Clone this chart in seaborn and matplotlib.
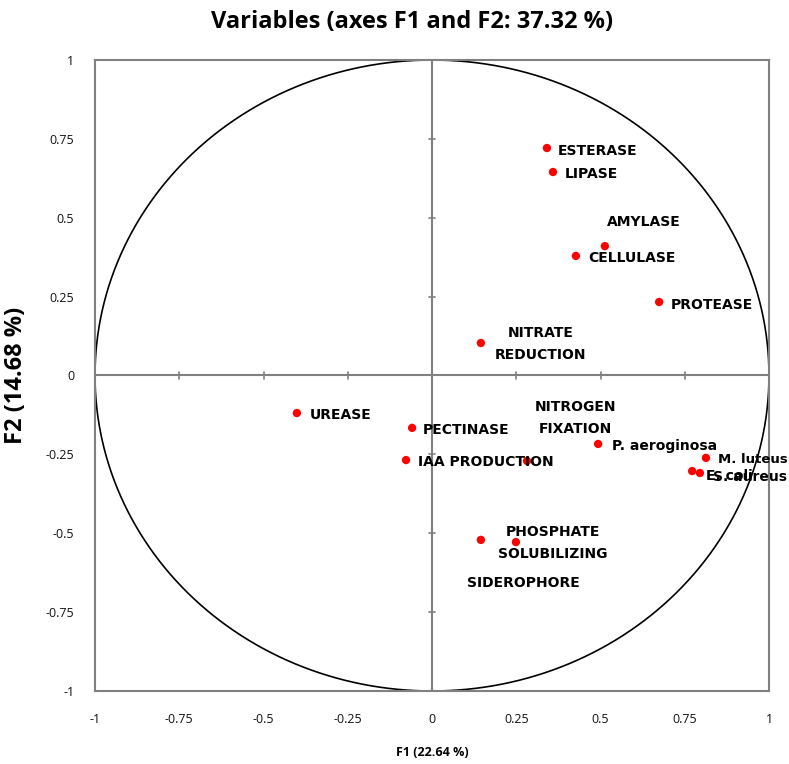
import numpy as np
import pandas as pd
import matplotlib
matplotlib.use("Agg")
import matplotlib.pyplot as plt
import seaborn as sns

# ---- data ----
variables = ["ESTERASE", "LIPASE", "AMYLASE", "CELLULASE", "PROTEASE",
             "NITRATE\nREDUCTION", "UREASE", "PECTINASE", "IAA PRODUCTION",
             "NITROGEN\nFIXATION", "P. aeroginosa", "M. luteus", "E. coli",
             "S. aureus", "PHOSPHATE\nSOLUBILIZING", "SIDEROPHORE"]
f1 = [0.341, 0.359, 0.513, 0.427, 0.674, 0.145, -0.401, -0.059, -0.077,
      0.282, 0.493, 0.813, 0.772, 0.795, 0.249, 0.145]
f2 = [0.721, 0.645, 0.410, 0.379, 0.233, 0.103, -0.119, -0.166, -0.268,
      -0.271, -0.217, -0.261, -0.303, -0.309, -0.528, -0.521]
ticks = [-1, -0.75, -0.5, -0.25, 0, 0.25, 0.5, 0.75, 1]
tick_labels = ["-1", "-0.75", "-0.5", "-0.25", "0", "0.25", "0.5", "0.75", "1"]
title = "Variables (axes F1 and F2: 37.32 %)"
xlabel = "F1 (22.64 %)"
ylabel = "F2 (14.68 %)"

# label placement (pixel offsets, alignment, fontsize) - style only
label_style = {
    "ESTERASE": (11, -3, "left", 10),
    "LIPASE": (12, -2, "left", 10),
    "AMYLASE": (2, 24, "left", 10),
    "CELLULASE": (12, -2, "left", 10),
    "PROTEASE": (12, -3, "left", 10),
    "NITRATE\nREDUCTION": (60, -1, "center", 10),
    "UREASE": (13, -2, "left", 10),
    "PECTINASE": (11, -2, "left", 10),
    "IAA PRODUCTION": (12, -2, "left", 10),
    "NITROGEN\nFIXATION": (48, 43, "center", 10),
    "P. aeroginosa": (14, -2, "left", 10),
    "M. luteus": (12, -2, "left", 9.5),
    "E. coli": (14, -5, "left", 10),
    "S. aureus": (13, -4, "left", 10),
    "PHOSPHATE\nSOLUBILIZING": (37, -1, "center", 10),
    "SIDEROPHORE": (43, -43, "center", 10),
}

df = pd.DataFrame({"variable": variables, "F1": f1, "F2": f2})

sns.set_theme(style="white")
plt.rcParams["font.family"] = ["DejaVu Sans"]

fig = plt.figure(figsize=(7.89, 7.64), dpi=100)
ax = fig.add_axes([95 / 789, 73 / 764, 674 / 789, 631 / 764])

# correlation circle
theta = np.linspace(0, 2 * np.pi, 721)
ax.plot(np.cos(theta), np.sin(theta), color="black", lw=1.2, zorder=2)

# zero lines
ax.axhline(0, color="#808080", lw=1.5, zorder=1)
ax.axvline(0, color="#808080", lw=1.5, zorder=1)
# small tick marks on zero lines
for t in ticks:
    if t in (-1, 0, 1):
        continue
    ax.plot([t, t], [-0.012, 0.012], color="#808080", lw=1.2, zorder=1)
    ax.plot([-0.01, 0.01], [t, t], color="#808080", lw=1.2, zorder=1)

sns.scatterplot(data=df, x="F1", y="F2", color="#ff0000", s=36,
                edgecolor="none", ax=ax, zorder=3)

for _, row in df.iterrows():
    dx, dy, ha, fs = label_style[row["variable"]]
    ax.annotate(row["variable"], (row["F1"], row["F2"]),
                xytext=(dx, dy), textcoords="offset pixels",
                ha=ha, va="center", fontsize=fs, fontweight="bold",
                color="black", linespacing=1.75, multialignment="center",
                zorder=4, annotation_clip=False)

ax.set_xlim(-1, 1)
ax.set_ylim(-1, 1)
ax.set_xticks(ticks)
ax.set_yticks(ticks)
ax.set_xticklabels(tick_labels, fontsize=9, family="Open Sans", color="#111111")
ax.set_yticklabels(tick_labels, fontsize=9, family="Open Sans", color="#111111")
ax.tick_params(axis="both", length=0)
ax.tick_params(axis="x", pad=16)
ax.tick_params(axis="y", pad=15)
for sp in ax.spines.values():
    sp.set_color("#808080")
    sp.set_linewidth(1.5)
    sp.set_visible(True)

ax.set_xlabel(xlabel, fontsize=9, fontweight="bold", family="Open Sans",
              color="black")
ax.xaxis.set_label_coords(0.5, -0.087)
ax.set_ylabel(ylabel, fontsize=17, fontweight="bold", family="Open Sans",
              color="black")
ax.yaxis.set_label_coords(-0.099, 0.5)
fig.text(412 / 789, 1 - 22 / 764, title, ha="center", va="center",
         fontsize=17, fontweight="bold", family="Open Sans", color="black")

fig.savefig("out.png", dpi=100, facecolor="white")
